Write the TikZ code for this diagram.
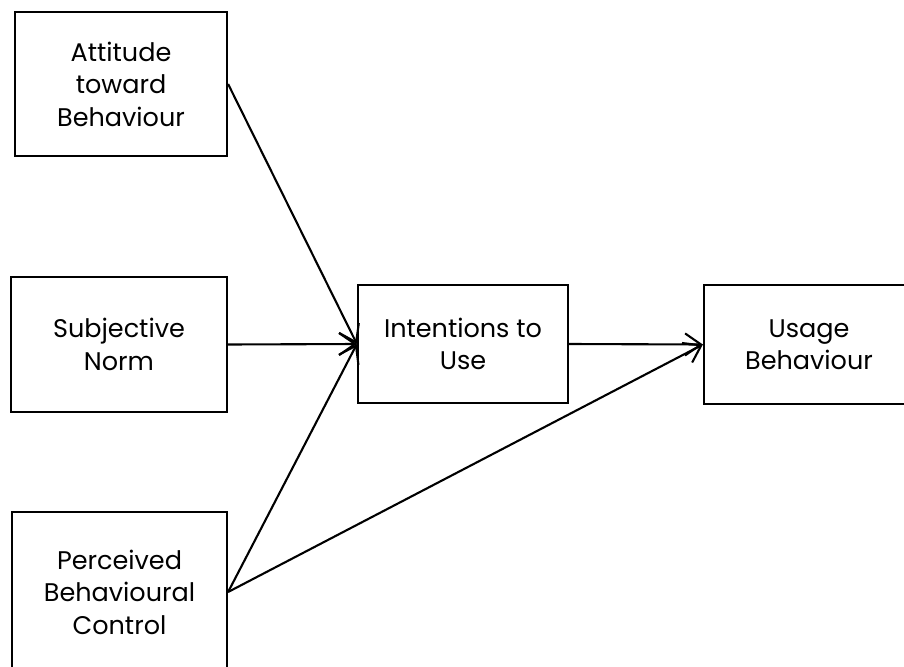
\documentclass[tikz,border=0pt]{standalone}
\usepackage{fontspec}
\setmainfont{Poppins}
\usetikzlibrary{arrows.meta}
\begin{document}
\begin{tikzpicture}[x=1pt,y=-1pt,
  box/.style={draw=black, line width=2.2pt, rectangle, inner sep=0pt,
    align=center, font=\fontsize{25.5}{32.5}\selectfont},
  link/.style={line width=2.1pt, -{Straight Barb[length=16pt,width=22pt,line width=2.1pt]}}]
  \useasboundingbox (0,0) rectangle (904,666);
  \clip (0,0) rectangle (904,666);
  \fill[white] (0,0) rectangle (904,666);

  \node[box, minimum width=212pt, minimum height=144pt] (att) at (121,84)
    {Attitude\\toward\\Behaviour};
  \node[box, minimum width=216pt, minimum height=135pt] (subj) at (119,344.5)
    {Subjective\\Norm};
  \node[box, minimum width=215pt, minimum height=160pt] (perc) at (119.5,592)
    {Perceived\\Behavioural\\Control};
  \node[box, minimum width=210pt, minimum height=118pt] (int) at (463,344)
    {Intentions to\\Use};
  \node[box, minimum width=210pt, minimum height=119pt] (use) at (809,344.5)
    {Usage\\Behaviour};

  \draw[link] (att.east) -- (int.west);
  \draw[link] (subj.east) -- (int.west);
  \draw[link] (perc.east) -- (int.west);
  \draw[link] (int.east) -- (use.west);
  \draw[link] (perc.east) -- (use.west);
\end{tikzpicture}
\end{document}
